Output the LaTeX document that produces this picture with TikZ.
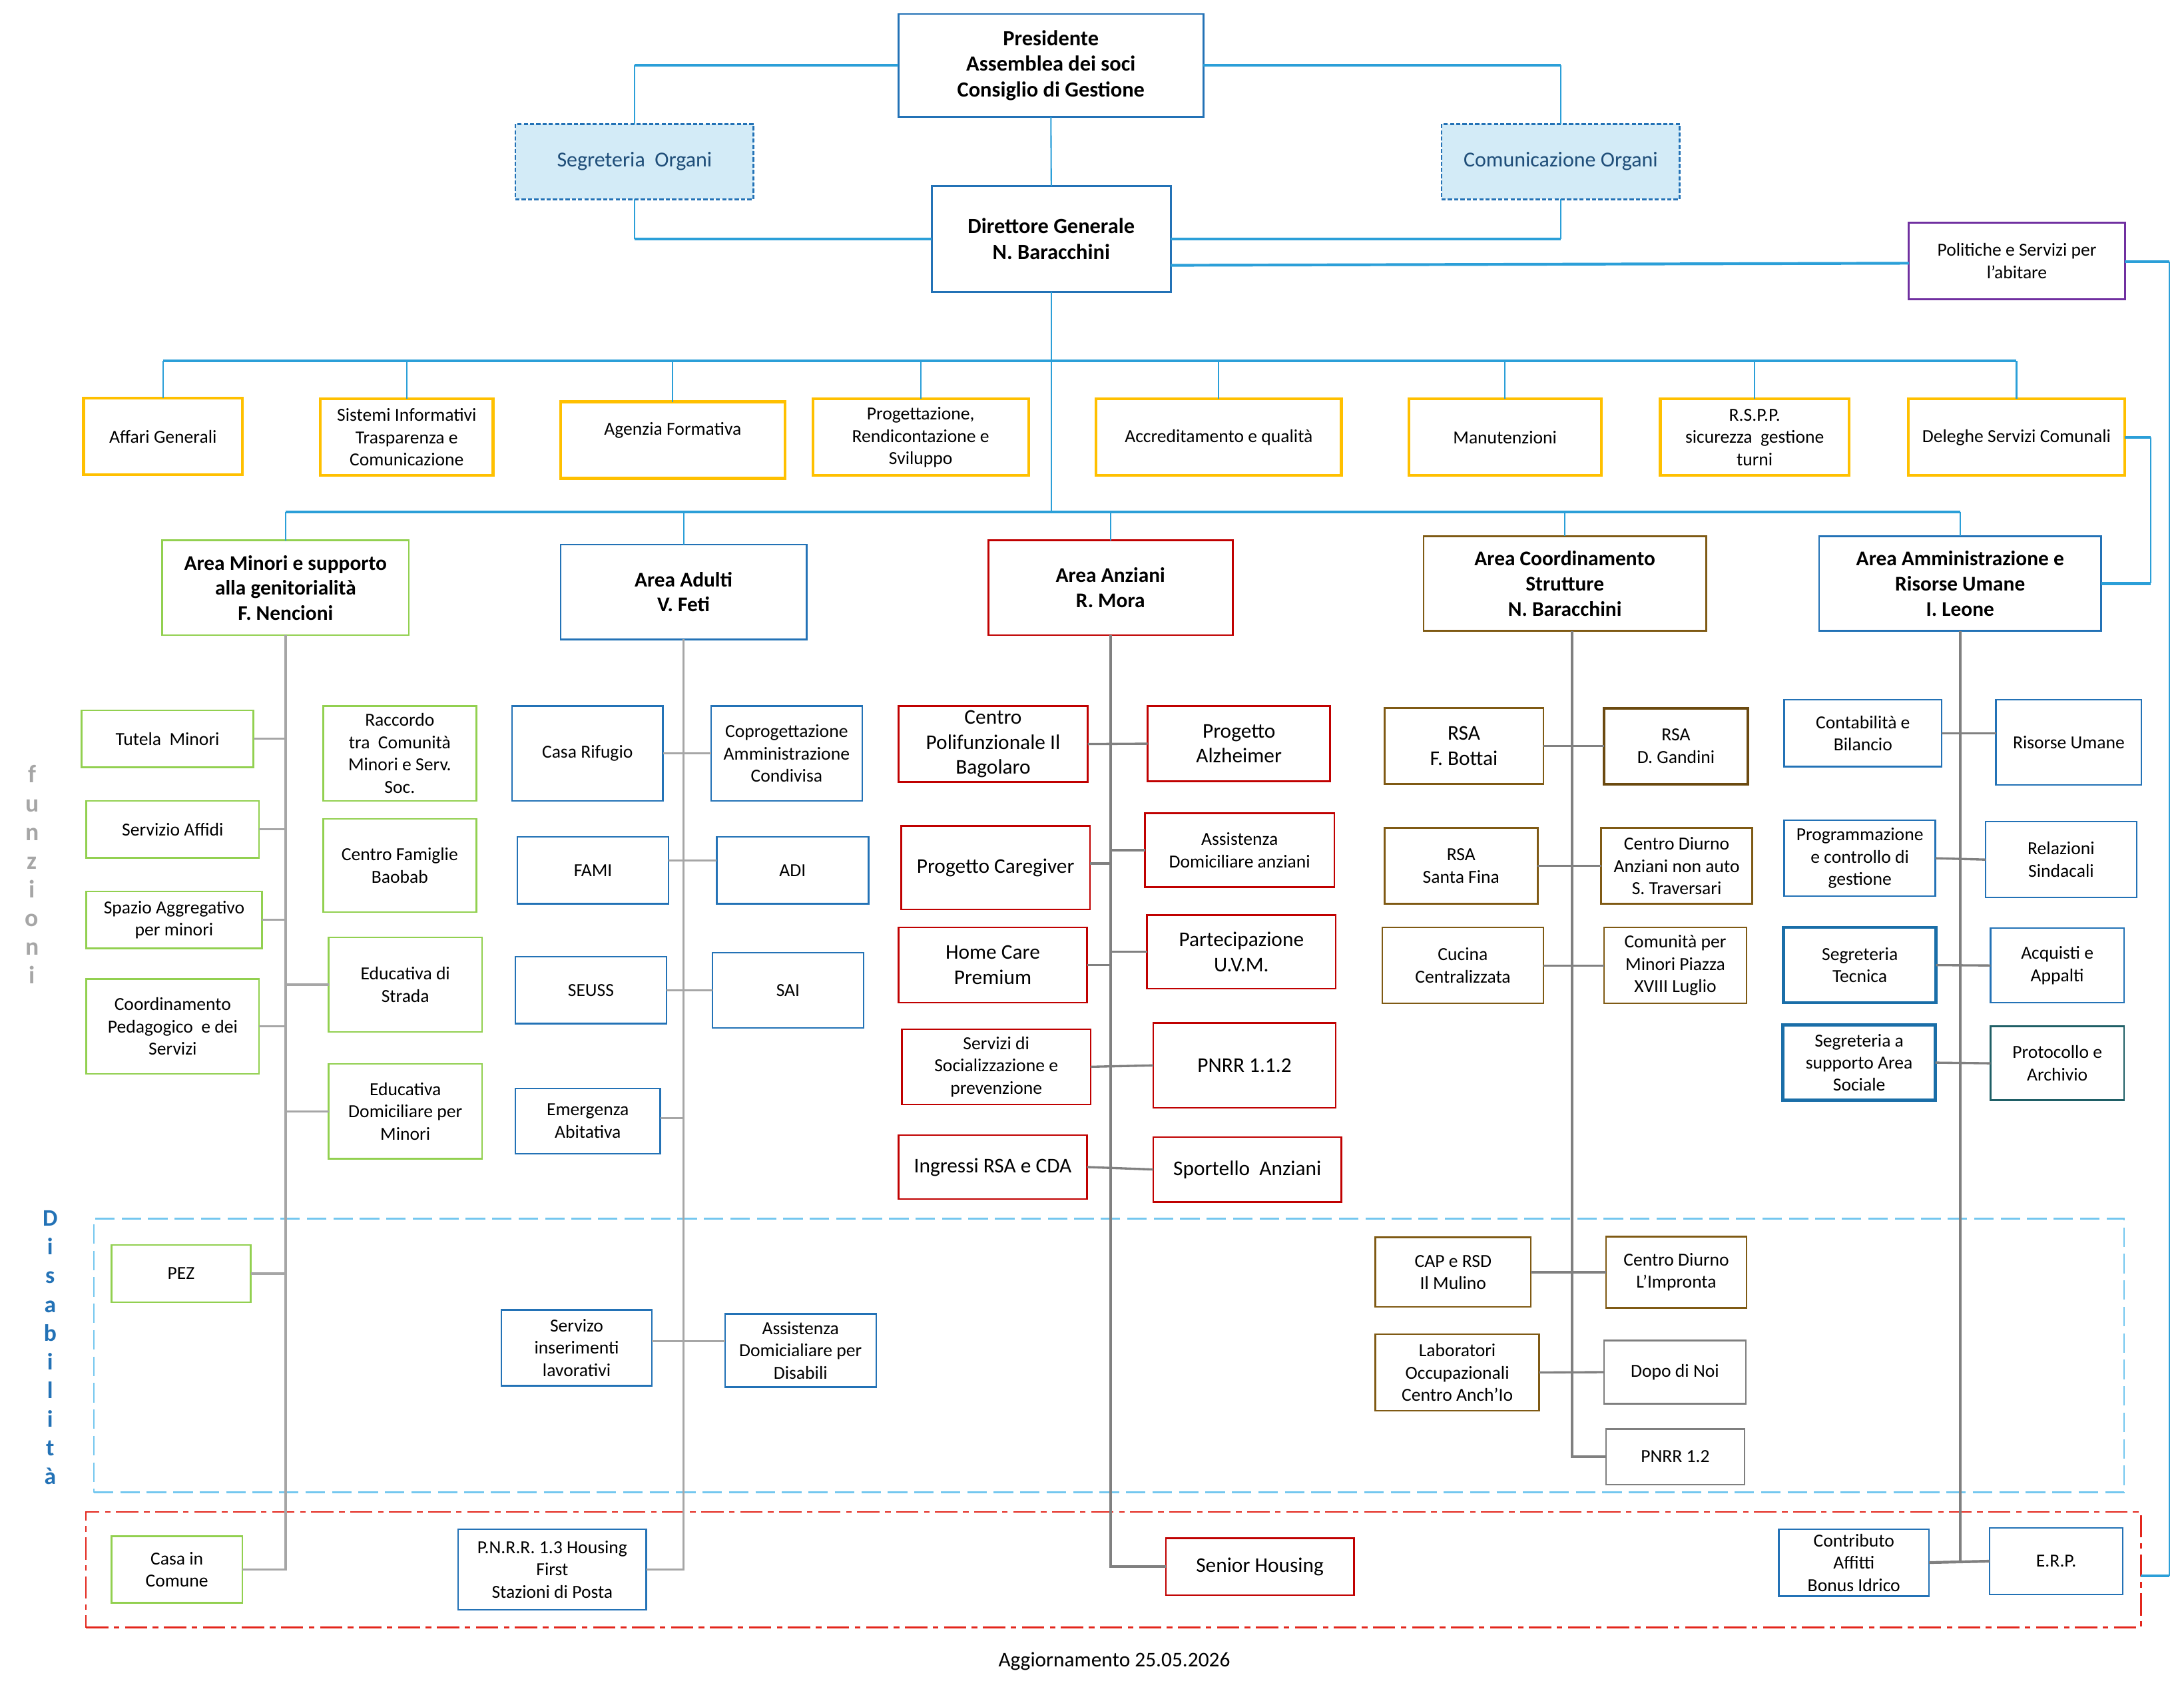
\documentclass[tikz,border=0pt]{standalone}
\usepackage{fontspec}
\setmainfont{Carlito}
\usetikzlibrary{calc}
\definecolor{cblue}{HTML}{2372B6}
\definecolor{cblued}{HTML}{1A6EA8}
\definecolor{cyel}{HTML}{FFC000}
\definecolor{cgreen}{HTML}{92D050}
\definecolor{cred}{HTML}{C00000}
\definecolor{cbrown}{HTML}{7F5A14}
\definecolor{cbrownd}{HTML}{6B4A10}
\definecolor{cgrey}{HTML}{7F7F7F}
\definecolor{cpurple}{HTML}{7030A0}
\definecolor{cseg}{HTML}{D3EBF7}
\definecolor{cnavy}{HTML}{1F4E79}
\definecolor{cline}{HTML}{2B9FD8}
\definecolor{cglight}{HTML}{A6A6A6}
\definecolor{cgdark}{HTML}{808080}
\definecolor{cdis}{HTML}{74C7EF}
\definecolor{cdred}{HTML}{E3261C}
\definecolor{cteal}{HTML}{1F5F66}
\newcommand\fnS{\fontsize{13.2}{16}\selectfont}
\newcommand\fnB{\fontsize{15}{18}\selectfont}
\newcommand\fnH{\fontsize{15}{18}\selectfont\bfseries}
\newcommand\fnP{\fontsize{15.5}{18.5}\selectfont\bfseries}
\newcommand\fnSeg{\fontsize{15.3}{18}\selectfont}
\newcommand\fnFz{\fontsize{18}{20.6}\selectfont\bfseries}
\newcommand\fnDis{\fontsize{17}{20.6}\selectfont\bfseries}
\newcommand\bx[7][]{%
  \pgfmathsetmacro\bw{#5-#3}\pgfmathsetmacro\bh{#6-#4}%
  \pgfmathsetmacro\bcx{(#3+#5)/2}\pgfmathsetmacro\bcy{(#4+#6)/2}%
  \node[box,#1,minimum width=\bw pt,minimum height=\bh pt] (#2) at (\bcx,\bcy) {#7};}
\begin{document}
\begin{tikzpicture}[x=1pt,y=-1pt,
  box/.style={draw, fill=white, align=center, inner sep=0pt, outer sep=0pt, line width=1.2pt, text=black, font=\fnS},
  big/.style={font=\fnB},
  hdr/.style={font=\fnH, line width=1.3pt},
  ybox/.style={draw=cyel, line width=2pt},
  gbox/.style={draw=cgreen},
  bbox/.style={draw=cblue},
  rbox/.style={draw=cred},
  nbox/.style={draw=cbrown},
  kbox/.style={draw=cgrey},
  segbox/.style={draw=cblue, fill=cseg, dash pattern=on 3pt off 1.5pt, text=cnavy, font=\fnSeg, line width=1.3pt},
  pbox/.style={draw=cpurple, line width=1.5pt},
  bthick/.style={draw=cline, line width=2pt},
  bthin/.style={draw=cline, line width=1pt},
  glight/.style={draw=cglight, line width=1.6pt},
  gdark/.style={draw=cgdark, line width=2pt},
  gh/.style={draw=cgdark, line width=1.6pt}]
\useasboundingbox (0,0) rectangle (1568,1224);
\fill[white] (0,0) rectangle (1568,1224);

% regions
\bx[draw=cdis, fill=none, line width=1.3pt, dash pattern=on 14pt off 5pt]{dis}{67.4}{875}{1525}{1071.7}{}
\bx[draw=cdred, fill=none, line width=1.3pt, dash pattern=on 16pt off 4pt on 4pt off 4pt]{hsg}{61.7}{1085.6}{1537}{1168.7}{}

% top
\bx[bbox,hdr,font=\fnP]{pres}{645}{10}{864}{84}{Presidente\\Assemblea dei soci\\Consiglio di Gestione}
\bx[segbox]{seg}{370}{89}{541}{143}{Segreteria\ \ Organi}
\bx[segbox]{com}{1035}{89}{1206}{143}{Comunicazione Organi}
\bx[bbox,hdr,font=\fnP]{dg}{669}{133.5}{840.5}{209.5}{Direttore Generale\\N. Baracchini}
\bx[pbox]{pol}{1370.5}{160}{1525.5}{215}{Politiche e Servizi per\\l'abitare}

% staff
\bx[ybox]{aff}{60}{286}{174}{341}{Affari Generali}
\bx[ybox]{sis}{230}{286.5}{354}{341.5}{Sistemi Informativi\\Trasparenza e\\Comunicazione}
\bx[ybox]{age}{402.5}{288.5}{563.5}{343.5}{Agenzia Formativa\\\mbox{}}
\bx[ybox]{pro}{583.5}{286.5}{738.5}{341.5}{Progettazione,\\Rendicontazione e\\Sviluppo}
\bx[ybox]{acc}{787}{286.5}{963}{341.5}{Accreditamento e qualità}
\bx[ybox]{man}{1011.5}{286.5}{1149.5}{341.5}{Manutenzioni}
\bx[ybox]{rsp}{1192}{286.5}{1327.5}{341.5}{R.S.P.P.\\sicurezza\ \ gestione\\turni}
\bx[ybox]{del}{1370}{286.5}{1525.5}{341.5}{Deleghe Servizi Comunali}

% areas
\bx[gbox,hdr]{amin}{116.5}{388}{293.5}{456}{Area Minori e supporto\\alla genitorialità\\F. Nencioni}
\bx[bbox,hdr]{aadu}{402.5}{391}{579}{459}{Area Adulti\\V. Feti}
\bx[rbox,hdr]{aanz}{709.5}{388}{885}{456}{Area Anziani\\R. Mora}
\bx[nbox,hdr]{acoo}{1022}{385}{1225}{453}{Area Coordinamento\\Strutture\\N. Baracchini}
\bx[bbox,hdr]{aamm}{1306}{385}{1508.5}{453}{Area Amministrazione e\\Risorse Umane\\I. Leone}

% minori
\bx[gbox]{tut}{58.5}{510}{182}{551}{Tutela\ \ Minori}
\bx[gbox]{saf}{62}{575}{186}{616}{Servizio Affidi}
\bx[gbox]{spa}{62}{640}{188}{681}{Spazio Aggregativo\\per minori}
\bx[gbox]{cpd}{62}{703}{186}{771}{Coordinamento\\Pedagogico\ \ e dei\\Servizi}
\bx[gbox]{rac}{232}{507}{342}{575}{Raccordo\\tra\ \ Comunità\\Minori e Serv.\\Soc.}
\bx[gbox]{cfb}{232}{588}{342}{655}{Centro Famiglie\\Baobab}
\bx[gbox]{eds}{236}{673}{346}{741}{Educativa di\\Strada}
\bx[gbox]{edm}{236}{764}{346}{832}{Educativa\\Domiciliare per\\Minori}
\bx[gbox]{pez}{80}{894}{180}{935}{PEZ}
\bx[gbox]{cic}{80}{1103}{174}{1151}{Casa in\\Comune}

% adulti
\bx[bbox]{casa}{367.5}{507}{476}{575}{Casa Rifugio}
\bx[bbox]{copr}{510.5}{507}{619}{575}{Coprogettazione\\Amministrazione\\Condivisa}
\bx[bbox]{fami}{371.5}{601}{480}{649}{FAMI}
\bx[bbox]{adi}{514.5}{601}{623.5}{649}{ADI}
\bx[bbox]{seuss}{370}{687}{478.5}{735}{SEUSS}
\bx[bbox]{sai}{511.5}{684}{620}{738}{SAI}
\bx[bbox]{emer}{370}{781.5}{474}{828.5}{Emergenza\\Abitativa}
\bx[bbox]{sil}{360}{940.5}{468}{995}{Servizo\\inserimenti\\lavorativi}
\bx[bbox]{ass}{520.5}{943.5}{629}{996}{Assistenza\\Domicialiare per\\Disabili}
\bx[bbox]{pn13}{329}{1098}{464}{1156}{P.N.R.R. 1.3 Housing\\First\\Stazioni di Posta}

% anziani
\bx[rbox,big]{cpb}{645}{507}{781}{561.5}{Centro\\Polifunzionale Il\\Bagolaro}
\bx[rbox,big]{alz}{824}{507}{955}{561}{Progetto\\Alzheimer}
\bx[rbox,big]{pcg}{647}{593}{782.5}{653}{Progetto Caregiver}
\bx[rbox]{ada}{822}{584}{958}{637}{Assistenza\\Domiciliare anziani}
\bx[rbox,big]{hcp}{645}{666}{780.5}{720}{Home Care\\Premium}
\bx[rbox,big]{uvm}{823.5}{657}{959}{710}{Partecipazione\\U.V.M.}
\bx[rbox]{soc}{647.5}{739}{783}{793}{Servizi di\\Socializzazione e\\prevenzione}
\bx[rbox,big]{p112}{828}{734.5}{959}{795.5}{PNRR 1.1.2}
\bx[rbox,big]{ing}{645}{815}{780.5}{861}{Ingressi RSA e CDA}
\bx[rbox,big]{spo}{828}{816.5}{963}{863}{Sportello\ \ Anziani}
\bx[rbox,big]{sen}{837}{1104.5}{972}{1145.5}{Senior Housing}

% coordinamento
\bx[nbox,big]{rsb}{994}{508.5}{1108}{563}{RSA\\F. Bottai}
\bx[nbox,line width=2pt,draw=cbrownd]{rsg}{1151.5}{508.5}{1255}{563}{RSA\\D. Gandini}
\bx[nbox]{rsf}{994}{594.5}{1104}{649}{RSA\\Santa Fina}
\bx[nbox]{cdt}{1149.5}{594.5}{1258}{649}{Centro Diurno\\Anziani non auto\\S. Traversari}
\bx[nbox]{cuc}{992.5}{666}{1108}{720.5}{Cucina\\Centralizzata}
\bx[nbox]{cmp}{1151.5}{666}{1254}{720.5}{Comunità per\\Minori Piazza\\XVIII Luglio}
\bx[nbox]{cap}{987.5}{888.5}{1099}{938.5}{CAP e RSD\\Il Mulino}
\bx[nbox]{imp}{1153}{888}{1254}{939}{Centro Diurno\\L'Impronta}
\bx[nbox]{lab}{987.5}{958}{1105}{1013}{Laboratori\\Occupazionali\\Centro Anch'Io}
\bx[kbox]{dop}{1151.5}{962.5}{1253.5}{1008}{Dopo di Noi}
\bx[kbox]{pn12}{1153}{1026}{1252.5}{1066}{PNRR 1.2}

% amministrazione
\bx[bbox]{cb}{1281}{502.5}{1394}{550.5}{Contabilità e\\Bilancio}
\bx[bbox]{ru}{1433}{502.5}{1537.5}{563.5}{Risorse Umane}
\bx[bbox]{pcg2}{1281}{589}{1389.5}{643.5}{Programmazione\\e controllo di\\gestione}
\bx[bbox]{rs}{1425.5}{590}{1534}{644.5}{Relazioni\\Sindacali}
\bx[bbox,line width=2.2pt,draw=cblued]{st}{1280.5}{666}{1390}{720}{Segreteria\\Tecnica}
\bx[bbox]{aa}{1429}{666.5}{1525}{720}{Acquisti e\\Appalti}
\bx[bbox,line width=2.2pt,draw=cblued]{ssas}{1280}{736}{1389.5}{790}{Segreteria a\\supporto Area\\Sociale}
\bx[bbox,draw=cteal]{pa}{1429}{737}{1525}{790}{Protocollo e\\Archivio}
\bx[bbox]{caf}{1277}{1098}{1385}{1146}{Contributo\\Affitti\\Bonus Idrico}
\bx[bbox]{erp}{1428.5}{1097}{1524}{1145}{E.R.P.}

% side labels
\node[font=\fnFz, text=cglight, align=center, inner sep=0pt] (fz) at (23,628) {f\\u\\n\\z\\i\\o\\n\\i};
\node[font=\fnDis, text=cblue, align=center, inner sep=0pt] (dsb) at (36,967.7) {D\\i\\s\\a\\b\\i\\l\\i\\t\\à};
\node[font=\fnB, inner sep=0pt] (agg) at (800,1193) {Aggiornamento 25.05.2026};

% ---- connectors: top
\draw[bthick] (pres.west) -- (seg.north |- pres.west);
\draw[bthin] (seg.north |- pres.west) -- (seg.north);
\draw[bthick] (pres.east) -- (com.north |- pres.east);
\draw[bthin] (com.north |- pres.east) -- (com.north);
\draw[bthin] (pres.south) -- (dg.north);
\draw[bthin] (seg.south) -- (seg.south |- dg.west);
\draw[bthick] (seg.south |- dg.west) -- (dg.west);
\draw[bthin] (com.south) -- (com.south |- dg.east);
\draw[bthick] (com.south |- dg.east) -- (dg.east);
\draw[bthick] (dg.east |- 0,190.5) -- (pol.west |- 0,189);
\coordinate (rt) at (1557.5,1131.5);
\draw[bthick] (pol.east |- 0,187.7) -- (rt |- 0,187.7);
\draw[bthin] (rt |- 0,187.7) -- (rt);
\draw[bthick] (rt) -- (hsg.east |- rt);
\draw[bthick] (del.east) -- ++(18.5,0) coordinate (dr);
\draw[bthin] (dr) -- (dr |- aamm.east);
\draw[bthick] (dr |- aamm.east) -- (aamm.east);

% buses
\coordinate (bus1) at (0,259);
\coordinate (bus2) at (0,367.5);
\draw[bthin] (dg.south) -- (dg.south |- bus2);
\draw[bthick] (aff.north |- bus1) -- (del.north |- bus1);
\foreach \n in {aff,sis,age,pro,acc,man,rsp,del} \draw[bthin] (\n.north |- bus1) -- (\n.north);
\draw[bthick] (amin.north |- bus2) -- (aamm.north |- bus2);
\foreach \n in {amin,aadu,aanz,acoo,aamm} \draw[bthin] (\n.north |- bus2) -- (\n.north);

% spines
\draw[glight] (amin.south) -- (amin.south |- cic.east) -- (cic.east);
\draw[glight] (aadu.south) -- (aadu.south |- pn13.east) -- (pn13.east);
\draw[gdark] (aanz.south) -- (aanz.south |- sen.west) -- (sen.west);
\coordinate (cspine) at (1128.7,0);
\draw[gdark] (acoo.south -| cspine) -- (cspine |- pn12.west) -- (pn12.west);
\draw[gdark] (aamm.south) -- (aamm.south |- caf.east);
\draw[gdark] (caf.east) -- (erp.west);

% minori
\foreach \n in {tut,saf,spa,cpd,pez} \draw[glight] (\n.east) -- (\n.east -| amin.south);
\foreach \n in {eds,edm} \draw[glight] (\n.west) -- (\n.west -| amin.south);
% adulti
\draw[glight] (casa.east) -- (copr.west);
\draw[glight] (fami.east |- 0,618) -- (adi.west |- 0,618);
\draw[glight] (seuss.east) -- (sai.west);
\draw[glight] (emer.east |- 0,803) -- (aadu.south |- 0,803);
\draw[glight] (sil.east |- 0,963) -- (ass.west |- 0,963);
% anziani
\draw[gh] (cpb.east) -- (alz.west);
\draw[gh] (pcg.east |- 0,620) -- (aanz.south |- 0,620);
\draw[gh] (ada.west) -- (ada.west -| aanz.south);
\draw[gh] (hcp.east) -- (hcp.east -| aanz.south);
\draw[gh] (uvm.west) -- (uvm.west -| aanz.south);
\draw[gh] (soc.east) -- (p112.west);
\draw[gh] (ing.east) -- (spo.west);
% coordinamento
\draw[gh] (rsb.east) -- (rsg.west);
\draw[gh] (rsf.east) -- (cdt.west);
\draw[gh] (cuc.east) -- (cmp.west);
\draw[gh] (cap.east) -- (imp.west);
\draw[gh] (lab.east) -- (dop.west);
% amministrazione
\draw[gh] (cb.east) -- (ru.west |- cb.east);
\draw[gh] (pcg2.east) -- (rs.west);
\draw[gh] (st.east) -- (aa.west);
\draw[gh] (ssas.east) -- (pa.west);
\end{tikzpicture}
\end{document}
